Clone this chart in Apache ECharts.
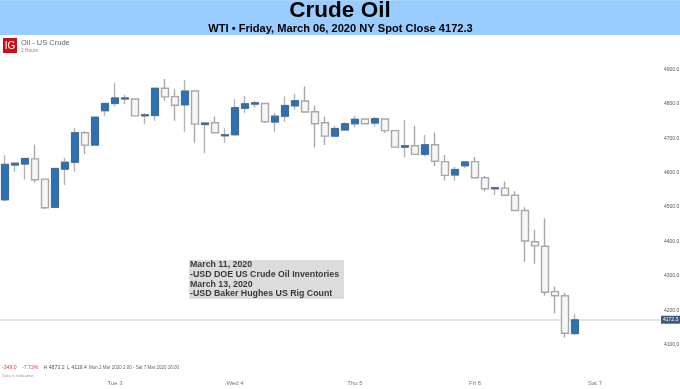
<!DOCTYPE html>
<html>
<head>
<meta charset="utf-8">
<style>html,body{margin:0;padding:0;background:#fff}#c{width:680px;height:389px}</style>
<script src="https://cdn.jsdelivr.net/npm/echarts@6/dist/echarts.min.js"></script>
</head>
<body>
<div id="c"></div>
<script>
const opens  = [4521,4622,4625,4640,4581,4499,4610,4630,4716,4680,4780,4801,4814,4814,4765,4766,4845,4821,4797,4837,4740,4745,4707,4710,4787,4799,4801,4747,4764,4794,4808,4777,4745,4706,4724,4742,4756,4744,4756,4722,4674,4678,4653,4681,4632,4593,4620,4632,4585,4553,4555,4534,4490,4399,4386,4254,4242,4132];
const closes = [4624,4627,4641,4579,4498,4612,4630,4716,4680,4761,4801,4817,4817,4765,4768,4845,4820,4796,4837,4741,4744,4716,4710,4789,4800,4803,4748,4764,4795,4809,4776,4742,4706,4728,4742,4755,4742,4757,4722,4674,4678,4653,4681,4633,4592,4609,4631,4585,4553,4556,4534,4490,4401,4387,4252,4242,4133,4172];
const lows   = [4516,4602,4579,4571,4494,4499,4564,4603,4654,4680,4765,4792,4799,4763,4741,4751,4809,4751,4719,4687,4656,4715,4687,4710,4773,4789,4744,4719,4747,4782,4776,4674,4680,4706,4724,4732,4742,4734,4715,4674,4644,4652,4647,4619,4577,4576,4613,4584,4545,4535,4531,4489,4341,4335,4242,4191,4120,4128];
const highs  = [4651,4630,4641,4681,4582,4612,4643,4730,4721,4761,4801,4862,4826,4815,4773,4846,4872,4842,4869,4838,4744,4763,4729,4813,4823,4808,4801,4773,4821,4829,4850,4794,4763,4736,4747,4765,4756,4762,4756,4722,4753,4736,4709,4716,4651,4616,4631,4645,4590,4556,4574,4546,4499,4433,4467,4269,4251,4188];
const dayLabels = ['Tue 3','Wed 4','Thu 5','Fri 6','Sat 7'];
const dayIndexes = [11,23,35,47,59];
const priceTicks = [4100,4200,4300,4400,4500,4600,4700,4800,4900];
const spotClose = 4172.3;
const slotCount = 66;

const categories = Array.from({length: slotCount}, (_, i) => {
  const k = dayIndexes.indexOf(i);
  return k >= 0 ? dayLabels[k] : '';
});
const candles = opens.map((o, i) => [o, closes[i], lows[i], highs[i]]);
const upBodies = opens.map((o, i) => closes[i] > o ? [o, closes[i], o, closes[i]] : '-');

const sans = '"Liberation Sans", Arial, sans-serif';
const txt = (x, y, text, size, fill, weight, align) => ({
  type: 'text', x, y, silent: true, z: 50,
  style: {text, fontFamily: sans, fontSize: size, fill, fontWeight: weight || 'normal',
          align: align || 'left', verticalAlign: 'middle'}
});

const chart = echarts.init(document.getElementById('c'), null, {renderer: 'canvas'});
chart.setOption({
  animation: false,
  backgroundColor: '#ffffff',
  grid: {left: 0, top: 35, width: 660, height: 344, containLabel: false, outerBoundsMode: 'none'},
  xAxis: {
    type: 'category', data: categories, boundaryGap: true,
    axisLine: {show: false}, axisTick: {show: false}, splitLine: {show: false},
    axisLabel: {interval: 0, margin: 1, fontSize: 6, color: '#777', fontFamily: sans, hideOverlap: false}
  },
  yAxis: {
    type: 'value', position: 'right', min: 4000, max: 5000, interval: 100, scale: true,
    axisLine: {show: false}, axisTick: {show: false}, splitLine: {show: false},
    axisLabel: {
      margin: 4, fontSize: 5, color: '#555', fontFamily: sans,
      formatter: v => priceTicks.includes(v) ? v.toFixed(1) : ''
    }
  },
  series: [
    {
      type: 'candlestick', data: candles, barWidth: 8, z: 3,
      itemStyle: {color: '#2a72b5', color0: '#f6f6f9', borderColor: '#b4b4b4', borderColor0: '#a8a8a8', borderWidth: 1.4},
      markLine: {
        silent: true, symbol: 'none', z: 1,
        lineStyle: {color: '#e3e3ea', width: 2, type: 'solid'},
        label: {
          show: true, position: 'end', distance: 1, align: 'left', formatter: () => spotClose.toFixed(1),
          color: '#fff', fontSize: 5, fontFamily: sans, backgroundColor: '#3f5a7a', padding: [2, 2, 1, 2]
        },
        data: [{yAxis: spotClose}]
      }
    },
    {
      type: 'candlestick', data: upBodies, barWidth: 8, z: 4,
      itemStyle: {color: '#2a72b5', color0: '#2a72b5', borderColor: '#47698c', borderColor0: '#47698c', borderWidth: 1}
    }
  ],
  graphic: [
    {type: 'rect', silent: true, z: 40, shape: {x: 0, y: 0, width: 680, height: 35}, style: {fill: '#99ccff'}},
    {type: 'rect', silent: true, z: 41, shape: {x: 0, y: 0, width: 680, height: 1}, style: {fill: '#a9d4ff'}},
    txt(340, 11, 'Crude Oil', 22.5, '#000', 'bold', 'center'),
    txt(340.5, 29, 'WTI \u2022 Friday, March 06, 2020 NY Spot Close 4172.3', 11.1, '#000', 'bold', 'center'),
    {type: 'rect', silent: true, z: 45, shape: {x: 3, y: 38, width: 14, height: 15}, style: {fill: '#c8101c'}},
    txt(10, 46, 'IG', 10, '#fff', 'normal', 'center'),
    txt(21, 42.5, 'Oil - US Crude', 7.5, '#666'),
    txt(21, 50.5, '2 Hours', 4.8, '#888'),
    {type: 'rect', silent: true, z: 45, shape: {x: 189, y: 260, width: 155, height: 39}, style: {fill: '#dcdcdc'}},
    txt(190, 265, 'March 11, 2020', 8.8, '#3a3a3a', 'bold'),
    txt(190, 274.8, '-USD DOE US Crude Oil Inventories', 8.8, '#3a3a3a', 'bold'),
    txt(190, 284.4, 'March 13, 2020', 8.8, '#3a3a3a', 'bold'),
    txt(190, 294, '-USD Baker Hughes US Rig Count', 8.8, '#3a3a3a', 'bold'),
    txt(2, 367.8, '-349.0', 5.2, '#e0403f'),
    txt(22, 367.8, '-7.72%', 5.2, '#e0403f'),
    txt(43.5, 367.8, 'H 4873.2', 5.2, '#555'),
    txt(67, 367.8, 'L 4119.4', 5.2, '#555'),
    txt(89, 367.8, 'Mon 2 Mar 2020 2:00 - Sat 7 Mar 2020 16:00', 4.5, '#666'),
    txt(2, 376, 'Data is indicative', 4.2, '#999')
  ]
});
</script>
</body>
</html>
